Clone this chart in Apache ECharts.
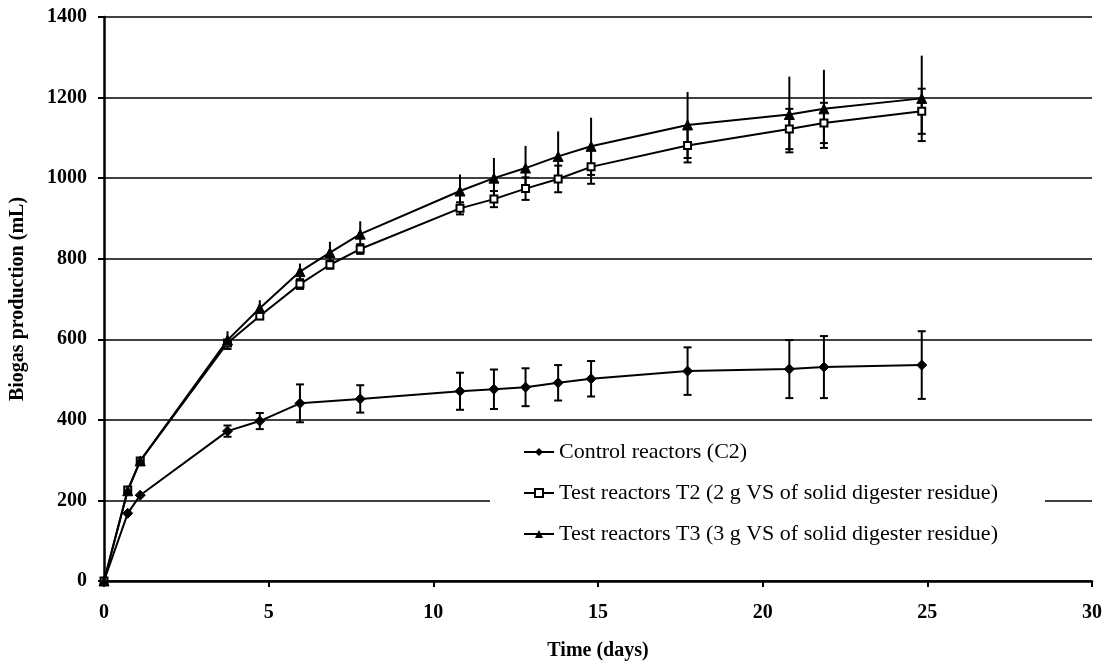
<!DOCTYPE html>
<html>
<head>
<meta charset="utf-8">
<script src="https://cdn.jsdelivr.net/npm/echarts@6/dist/echarts.min.js"></script>
<style>
  html, body { margin: 0; padding: 0; background: #fff; }
  #chart { width: 1109px; height: 666px; }
</style>
</head>
<body>
<div id="chart"></div>
<script>
/* 数据 */
const days = [0, 0.72, 1.1, 3.75, 4.73, 5.95, 6.86, 7.78, 10.81, 11.84, 12.8, 13.79, 14.79, 17.72, 20.81, 21.86, 24.83];
// 对照组没有 6.86 天的点 (null)
const controlValues = [0, 168, 213, 372, 397, 441, null, 452, 471, 476, 481, 492, 502, 521, 526, 531, 536];
const controlErr    = [0, 0, 0, 14, 20, 47, null, 34, 46, 49, 47, 44, 44, 59, 72, 77, 84];
const t2Values = [0, 226, 298, 591, 658, 737, 785, 824, 925, 948, 974, 998, 1028, 1081, 1122, 1137, 1166];
const t2Err    = [0, 0, 0, 6, 8, 12, 10, 12, 15, 20, 28, 33, 42, 42, 50, 50, 56];
const t3Values = [0, 224, 298, 598, 677, 768, 815, 861, 968, 1000, 1025, 1054, 1079, 1132, 1158, 1172, 1198];
const t3Err    = [0, 0, 0, 22, 20, 20, 27, 32, 41, 50, 55, 62, 71, 82, 94, 97, 106];
const seriesNames = [
    'Control reactors (C2)',
    'Test reactors T2 (2 g VS of solid digester residue)',
    'Test reactors T3 (3 g VS of solid digester residue)'
];

const fontFamily = '"Liberation Serif", "Times New Roman", serif';

function pairs(values) {
    let out = [];
    days.forEach((d, i) => { if (values[i] !== null) out.push([d, values[i]]); });
    return out;
}
function errPairs(values, errs) {
    let out = [];
    days.forEach((d, i) => { if (values[i] !== null && errs[i] > 0) out.push([d, values[i], errs[i]]); });
    return out;
}

/* 误差棒: topCap / bottomCap 控制是否画横线 */
function errorBar(data, topCap, bottomCap) {
    return {
        type: 'custom',
        silent: true,
        z: 3,
        data: data,
        encode: { x: 0, y: 1 },
        renderItem: function (params, api) {
            let x = api.value(0), y = api.value(1), e = api.value(2);
            let top = api.coord([x, y + e]);
            let bot = api.coord([x, y - e]);
            let w = 4;
            let style = { stroke: '#000', lineWidth: 2 };
            let children = [{
                type: 'line', shape: { x1: top[0], y1: top[1], x2: bot[0], y2: bot[1] }, style: style
            }];
            if (topCap) children.push({
                type: 'line', shape: { x1: top[0] - w, y1: top[1], x2: top[0] + w, y2: top[1] }, style: style
            });
            if (bottomCap) children.push({
                type: 'line', shape: { x1: bot[0] - w, y1: bot[1], x2: bot[0] + w, y2: bot[1] }, style: style
            });
            return { type: 'group', children: children };
        }
    };
}

var chart = echarts.init(document.getElementById('chart'));
var option = {
    animation: false,
    backgroundColor: '#fff',
    textStyle: { fontFamily: fontFamily, color: '#000' },
    grid: {
        left: 104,
        right: 17,
        top: 17,
        bottom: 84,
        containLabel: false
    },
    legend: {
        data: seriesNames,
        orient: 'vertical',
        left: 490,
        top: 433,
        padding: [8, 47, 8, 33],
        itemGap: 19,
        itemWidth: 30,
        itemHeight: 10,
        backgroundColor: '#fff',
        textStyle: { fontFamily: fontFamily, fontSize: 22, color: '#000' },
        z: 10
    },
    xAxis: {
        type: 'value',
        min: 0,
        max: 30,
        interval: 5,
        name: 'Time (days)',
        nameLocation: 'middle',
        nameGap: 60,
        nameTextStyle: { fontFamily: fontFamily, fontSize: 20, fontWeight: 'bold', color: '#000' },
        axisLine: { lineStyle: { color: '#000', width: 2.5 } },
        axisTick: { show: true, length: 6, lineStyle: { color: '#000', width: 2 } },
        axisLabel: { margin: 22, fontFamily: fontFamily, fontSize: 20, fontWeight: 'bold', color: '#000' },
        splitLine: { show: false }
    },
    yAxis: {
        type: 'value',
        min: 0,
        max: 1400,
        interval: 200,
        name: 'Biogas production (mL)',
        nameLocation: 'middle',
        nameGap: 76,
        nameRotate: 90,
        nameTextStyle: { fontFamily: fontFamily, fontSize: 20, fontWeight: 'bold', color: '#000' },
        axisLine: { show: true, lineStyle: { color: '#000', width: 2.5 } },
        axisTick: { show: true, length: 6, lineStyle: { color: '#000', width: 2 } },
        axisLabel: {
            margin: 17, fontFamily: fontFamily, fontSize: 20, fontWeight: 'bold', color: '#000',
            formatter: function (v) { return String(v); }
        },
        splitLine: { show: true, lineStyle: { color: '#000', width: 1.5 } }
    },
    series: [
        errorBar(errPairs(controlValues, controlErr), true, true),
        errorBar(errPairs(t2Values, t2Err), true, true),
        errorBar(errPairs(t3Values, t3Err), false, true),
        {
            name: seriesNames[0],
            type: 'line',
            z: 4,
            data: pairs(controlValues),
            symbol: 'diamond',
            symbolSize: 10,
            showAllSymbol: true,
            lineStyle: { color: '#000', width: 2 },
            itemStyle: { color: '#000', borderColor: '#000' }
        },
        {
            name: seriesNames[1],
            type: 'line',
            z: 4,
            data: pairs(t2Values),
            symbol: 'rect',
            symbolSize: 7,
            showAllSymbol: true,
            lineStyle: { color: '#000', width: 2 },
            itemStyle: { color: '#fff', borderColor: '#000', borderWidth: 2 }
        },
        {
            name: seriesNames[2],
            type: 'line',
            z: 4,
            data: pairs(t3Values),
            symbol: 'triangle',
            symbolSize: 10,
            showAllSymbol: true,
            lineStyle: { color: '#000', width: 2 },
            itemStyle: { color: '#000', borderColor: '#000' }
        }
    ]
};
chart.setOption(option);

window.addEventListener('resize', function () {
    chart.resize();
});
</script>
</body>
</html>
